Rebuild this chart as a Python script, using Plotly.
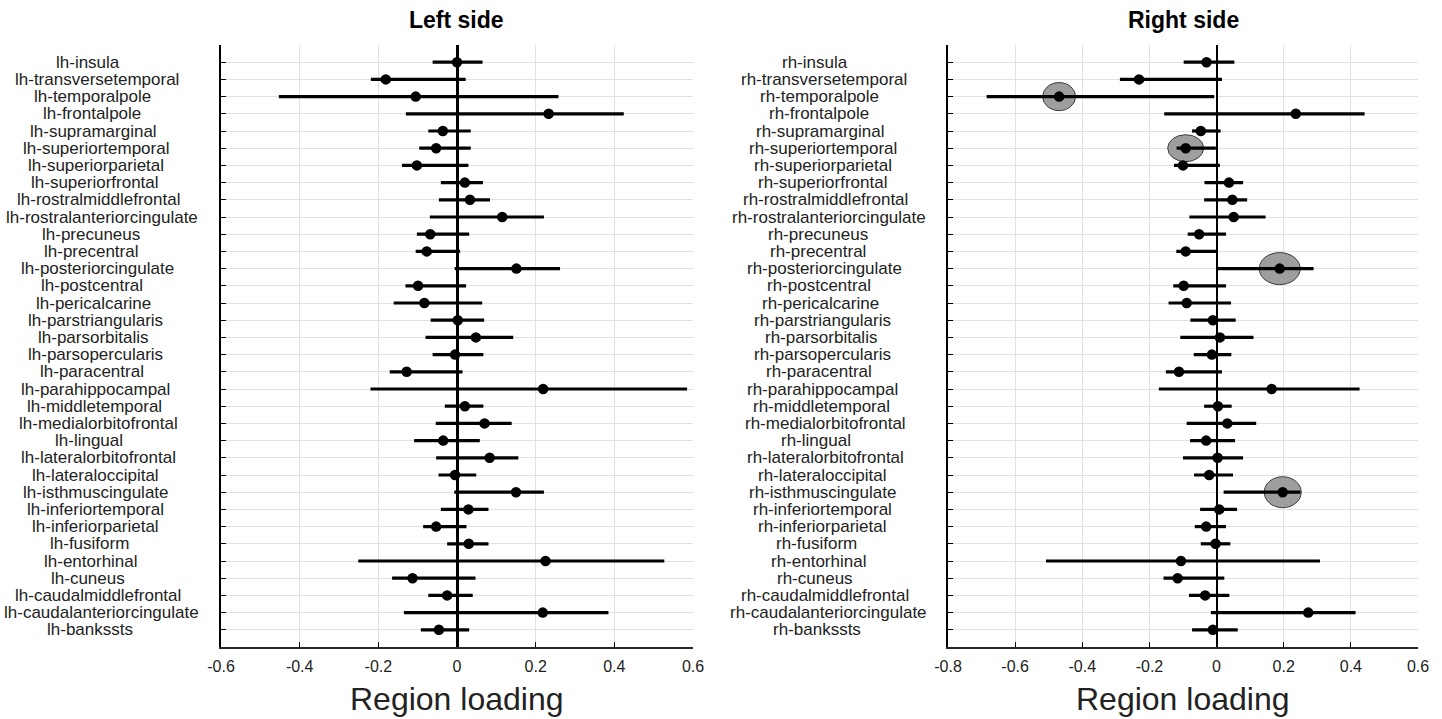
import plotly.graph_objects as go

regions = ["insula", "transversetemporal", "temporalpole", "frontalpole", "supramarginal",
           "superiortemporal", "superiorparietal", "superiorfrontal", "rostralmiddlefrontal",
           "rostralanteriorcingulate", "precuneus", "precentral", "posteriorcingulate",
           "postcentral", "pericalcarine", "parstriangularis", "parsorbitalis",
           "parsopercularis", "paracentral", "parahippocampal", "middletemporal",
           "medialorbitofrontal", "lingual", "lateralorbitofrontal", "lateraloccipital",
           "isthmuscingulate", "inferiortemporal", "inferiorparietal", "fusiform",
           "entorhinal", "cuneus", "caudalmiddlefrontal", "caudalanteriorcingulate", "bankssts"]

left_est = [0.000, -0.181, -0.105, 0.233, -0.036, -0.053, -0.102, 0.020, 0.033, 0.115,
            -0.068, -0.077, 0.151, -0.099, -0.083, 0.002, 0.048, -0.005, -0.128, 0.219,
            0.020, 0.070, -0.035, 0.083, -0.005, 0.150, 0.029, -0.053, 0.030, 0.225,
            -0.113, -0.025, 0.218, -0.046]
left_lo = [-0.062, -0.219, -0.453, -0.130, -0.073, -0.096, -0.140, -0.041, -0.046, -0.069,
           -0.102, -0.105, -0.006, -0.131, -0.161, -0.067, -0.080, -0.062, -0.171, -0.220,
           -0.031, -0.054, -0.109, -0.053, -0.047, -0.007, -0.041, -0.086, -0.025, -0.251,
           -0.165, -0.073, -0.135, -0.092]
left_hi = [0.065, 0.022, 0.258, 0.424, 0.035, 0.035, 0.029, 0.066, 0.084, 0.221,
           0.031, 0.008, 0.262, 0.023, 0.064, 0.069, 0.143, 0.067, 0.014, 0.585,
           0.067, 0.139, 0.058, 0.156, 0.049, 0.221, 0.080, 0.024, 0.080, 0.527,
           0.047, 0.040, 0.385, 0.031]

right_est = [-0.030, -0.231, -0.469, 0.236, -0.047, -0.092, -0.100, 0.037, 0.047, 0.051,
             -0.052, -0.092, 0.188, -0.098, -0.089, -0.011, 0.010, -0.014, -0.112, 0.164,
             0.004, 0.032, -0.031, 0.003, -0.022, 0.197, 0.008, -0.031, -0.003, -0.106,
             -0.116, -0.034, 0.273, -0.011]
right_lo = [-0.098, -0.288, -0.685, -0.156, -0.073, -0.119, -0.127, -0.036, -0.037, -0.081,
            -0.086, -0.120, 0.003, -0.129, -0.143, -0.078, -0.108, -0.068, -0.151, -0.172,
            -0.037, -0.089, -0.079, -0.100, -0.067, 0.021, -0.049, -0.065, -0.047, -0.508,
            -0.158, -0.082, -0.017, -0.073]
right_hi = [0.053, 0.016, -0.007, 0.441, 0.012, -0.002, 0.010, 0.079, 0.091, 0.146,
            0.028, 0.003, 0.289, 0.028, 0.043, 0.057, 0.110, 0.044, 0.016, 0.426,
            0.045, 0.118, 0.055, 0.079, 0.049, 0.250, 0.061, 0.028, 0.041, 0.308,
            0.023, 0.038, 0.414, 0.063]

right_highlight = ["temporalpole", "superiortemporal", "posteriorcingulate", "isthmuscingulate"]

left_ticks = [-0.6, -0.4, -0.2, 0, 0.2, 0.4, 0.6]
left_ticktext = ["-0.6", "-0.4", "-0.2", "0", "0.2", "0.4", "0.6"]
right_ticks = [-0.8, -0.6, -0.4, -0.2, 0, 0.2, 0.4, 0.6]
right_ticktext = ["-0.8", "-0.6", "-0.4", "-0.2", "0", "0.2", "0.4", "0.6"]

# ---- styles ----
FONT = "Arial, Liberation Sans, sans-serif"
W, H = 1442, 719
highlight_px = {"temporalpole": (33, 28), "superiortemporal": (36, 27),
                "posteriorcingulate": (41, 32), "isthmuscingulate": (37, 31)}

fig = go.Figure()


def add_panel(est, lo, hi, xa, ya):
    fig.add_trace(go.Scatter(
        x=est, y=regions, mode="markers",
        marker=dict(color="black", size=10.5),
        error_x=dict(type="data", symmetric=False,
                     array=[h - e for h, e in zip(hi, est)],
                     arrayminus=[e - l for e, l in zip(est, lo)],
                     color="black", thickness=3.2, width=0),
        xaxis=xa, yaxis=ya, showlegend=False, hoverinfo="x+y"))


add_panel(left_est, left_lo, left_hi, "x", "y")
add_panel(right_est, right_lo, right_hi, "x2", "y2")

# highlighted ellipses on right panel
for name in right_highlight:
    i = regions.index(name)
    w, h = highlight_px[name]
    fig.add_shape(type="circle", xref="x2", yref="y2",
                  xsizemode="pixel", ysizemode="pixel",
                  xanchor=right_est[i], yanchor=i,
                  x0=-w / 2, x1=w / 2, y0=-h / 2, y1=h / 2,
                  fillcolor="rgb(158,158,158)", line=dict(color="rgb(60,60,60)", width=1),
                  layer="between")

n = len(regions)
yax_common = dict(type="category", categoryorder="array", categoryarray=regions,
                  range=[n, -1], showticklabels=False, automargin=False,
                  ticks="inside", ticklen=5, tickcolor="black", tickwidth=1,
                  showgrid=True, gridcolor="rgb(225,225,225)", gridwidth=1,
                  showline=True, linecolor="black", linewidth=1.5, zeroline=False)
xax_common = dict(showgrid=True, gridcolor="rgb(225,225,225)", gridwidth=1,
                  ticks="inside", ticklen=5, tickcolor="black", tickwidth=1,
                  showline=True, linecolor="rgb(40,40,40)", linewidth=1.5,
                  zeroline=True, zerolinecolor="black", automargin=False,
                  ticklabelstandoff=4,
                  tickfont=dict(family=FONT, size=16, color="#222"))

left_dom = [221 / W, 693 / W]
right_dom = [948 / W, 1418 / W]
ydom = [1 - 647 / H, 1 - 45 / H]

fig.update_layout(
    template="none",
    width=W, height=H, margin=dict(l=0, r=0, t=0, b=0, pad=0, autoexpand=False),
    paper_bgcolor="white", plot_bgcolor="white",
    xaxis=dict(domain=left_dom, range=[-0.6, 0.6], tickvals=left_ticks,
               ticktext=left_ticktext, zerolinewidth=2.5, anchor="y", **xax_common),
    yaxis=dict(domain=ydom, anchor="x", **yax_common),
    xaxis2=dict(domain=right_dom, range=[-0.8, 0.6], tickvals=right_ticks,
                ticktext=right_ticktext, zerolinewidth=1.5, anchor="y2", **xax_common),
    yaxis2=dict(domain=ydom, anchor="x2", **yax_common),
)

# region labels: roughly centred, drifting slightly right for longer names (as in source)
for prefix, cx, ya in [("lh-", 93, "y"), ("rh-", 820, "y2")]:
    for r in regions:
        label = prefix + r
        xpix = cx + 0.76 * (len(label) - 15.2)
        fig.add_annotation(x=xpix / W, xref="paper", y=r, yref=ya,
                           text=label, showarrow=False, xanchor="center",
                           yanchor="middle",
                           font=dict(family=FONT, size=17, color="#222"))

# titles
for txt, dom in [("Left side", left_dom), ("Right side", right_dom)]:
    fig.add_annotation(x=(dom[0] + dom[1]) / 2, xref="paper", y=1 - 20 / H, yref="paper",
                       text="<b>" + txt + "</b>", showarrow=False, xanchor="center",
                       yanchor="middle", font=dict(family=FONT, size=23, color="black"))
    fig.add_annotation(x=(dom[0] + dom[1]) / 2, xref="paper", y=0, yref="paper",
                       text="Region loading", showarrow=False, xanchor="center",
                       yanchor="bottom", font=dict(family=FONT, size=32, color="#222"))

fig.write_html("out.html")
